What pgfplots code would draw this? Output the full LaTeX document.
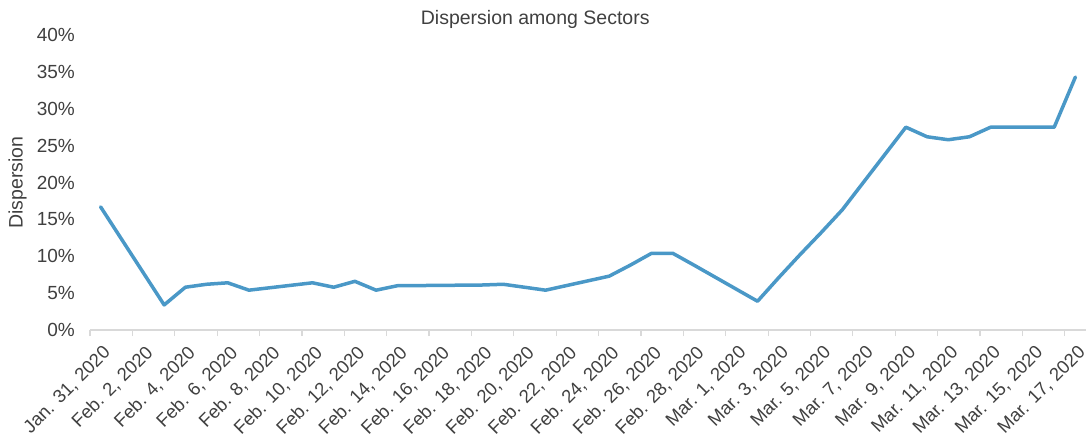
\documentclass[border=0pt]{standalone}
\usepackage{fontspec}
\setmainfont{Liberation Sans}
\usepackage{pgfplots}
\pgfplotsset{compat=1.18}
\definecolor{lineblue}{RGB}{74,152,199}
\definecolor{axisgray}{RGB}{217,217,217}
\definecolor{txt}{RGB}{64,64,64}
\begin{document}
\begin{tikzpicture}[x=1pt,y=1pt]
\path[use as bounding box] (0,0) rectangle (1088,437);
\begin{axis}[
  at={(90pt,107pt)}, anchor=south west,
  scale only axis, width=996pt, height=295pt,
  xmin=-0.5, xmax=46.5, ymin=0, ymax=40,
  axis x line*=bottom, axis y line*=left,
  y axis line style={draw=none},
  x axis line style={draw=axisgray, line width=1.3pt},
  xtick={0,2,...,46},
  xticklabels={{Jan. 31, 2020},{Feb. 2, 2020},{Feb. 4, 2020},{Feb. 6, 2020},{Feb. 8, 2020},{Feb. 10, 2020},{Feb. 12, 2020},{Feb. 14, 2020},{Feb. 16, 2020},{Feb. 18, 2020},{Feb. 20, 2020},{Feb. 22, 2020},{Feb. 24, 2020},{Feb. 26, 2020},{Feb. 28, 2020},{Mar. 1, 2020},{Mar. 3, 2020},{Mar. 5, 2020},{Mar. 7, 2020},{Mar. 9, 2020},{Mar. 11, 2020},{Mar. 13, 2020},{Mar. 15, 2020},{Mar. 17, 2020}},
  major tick length=0pt,
  minor xtick={-0.5,1.5,...,45.5},
  minor tick length=6pt,
  tick align=outside,
  minor tick style={draw=axisgray, line width=1.2pt},
  xticklabel style={rotate=45, anchor=east, inner sep=0pt, xshift=-9pt, yshift=-19pt, font=\fontsize{18.5}{22}\selectfont, text=txt},
  ytick={0,5,...,40},
  yticklabels={0\%,5\%,10\%,15\%,20\%,25\%,30\%,35\%,40\%},
  yticklabel style={anchor=east, inner sep=0pt, xshift=-15pt, font=\fontsize{19}{22}\selectfont, text=txt},
  ytick style={draw=none},
  ylabel={Dispersion},
  every axis y label/.style={at={(axis description cs:-0.0728,0.5)}, rotate=90, anchor=center, font=\fontsize{19.5}{22}\selectfont, text=txt},
  title={Dispersion among Sectors},
  title style={at={(axis description cs:0.447,1)}, anchor=base, yshift=5pt, font=\fontsize{19.5}{22}\selectfont, text=txt},
  clip=false,
]
\addplot[lineblue, line width=3.5pt, line join=round, line cap=round] coordinates {
(0,16.7) (3,3.4) (4,5.8) (5,6.2) (6,6.4) (7,5.4)
(10,6.4) (11,5.8) (12,6.6) (13,5.4) (14,6.0)
(18,6.1) (19,6.2) (20,5.8) (21,5.4)
(24,7.3) (25,8.8) (26,10.4) (27,10.4) (28,8.8)
(31,3.9) (32,7.1) (33,10.2) (34,13.2) (35,16.3)
(38,27.5) (39,26.2) (40,25.8) (41,26.2) (42,27.5)
(45,27.5) (46,34.3)
};
\end{axis}
\end{tikzpicture}
\end{document}
